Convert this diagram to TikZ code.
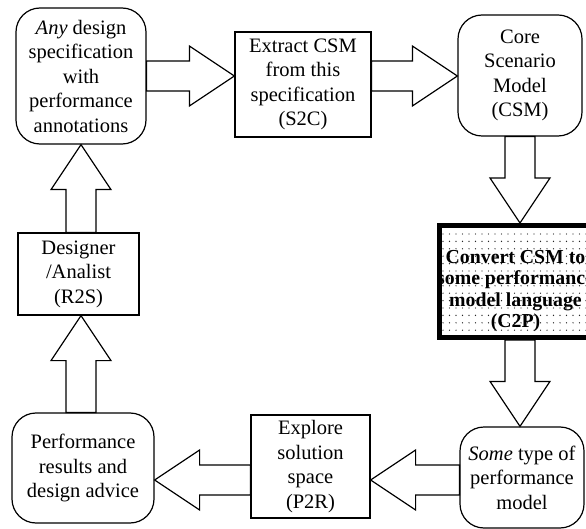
\documentclass[tikz,border=0pt]{standalone}
\usepackage{fontspec}
\setmainfont{Liberation Serif}
\usetikzlibrary{calc}
\tikzset{
  box/.style={draw, line width=1.2pt, inner sep=0pt, align=center,
    font=\fontsize{20.5}{24.5}\selectfont},
  rbox/.style={box, rounded corners=24pt},
  blk/.style={draw, line width=1.2pt, line join=miter},
  c2pbox/.style={draw, line width=5pt, inner sep=0pt},
  c2ptext/.style={inner sep=0pt, align=center,
    font=\fontsize{19.8}{21.5}\selectfont\bfseries},
}
% horizontal block arrow: #1 start, #2 tip, #3 = 1 (right) or -1 (left)
\newcommand{\arrowH}[3]{%
  \draw[blk] let \p1=(#1), \p2=(#2) in
    (\x1,{\y2+15pt}) -- ({\x2-(#3)*45pt},{\y2+15pt}) -- ({\x2-(#3)*45pt},{\y2+30pt})
    -- (\x2,\y2) -- ({\x2-(#3)*45pt},{\y2-30pt}) -- ({\x2-(#3)*45pt},{\y2-15pt})
    -- (\x1,{\y2-15pt}) -- cycle;}
% vertical block arrow: #1 start, #2 tip, #3 = 1 (up) or -1 (down)
\newcommand{\arrowV}[3]{%
  \draw[blk] let \p1=(#1), \p2=(#2) in
    ({\x2+15pt},\y1) -- ({\x2+15pt},{\y2-(#3)*45pt}) -- ({\x2+30pt},{\y2-(#3)*45pt})
    -- (\x2,\y2) -- ({\x2-30pt},{\y2-(#3)*45pt}) -- ({\x2-15pt},{\y2-(#3)*45pt})
    -- ({\x2-15pt},\y1) -- cycle;}
\begin{document}
\begin{tikzpicture}[x=1pt,y=-1pt]
\useasboundingbox (0,0) rectangle (586,529);
\clip (0,0) rectangle (586,529);
\fill[white] (0,0) rectangle (586,529);

% boxes
\node[rbox, minimum width=130pt, minimum height=136pt] (spec) at (81,76)
  {\textit{Any} design\\specification\\with\\performance\\annotations};
\node[box, minimum width=136pt, minimum height=105pt] (extract) at (303,84.5)
  {Extract CSM\\from this\\specification\\(S2C)};
\node[rbox, minimum width=124pt, minimum height=121pt] (core) at (520,75.5)
  {Core\\Scenario\\Model\\(CSM)};
\node[c2pbox, minimum width=153pt, minimum height=112pt] (c2p) at (516,281.5) {};
\begin{scope}
  \clip ($(c2p.north west)+(5,5)$) rectangle ($(c2p.south east)+(-5,-5)$);
  \foreach \i in {0,...,23}
    \foreach \j in {0,...,15}
      \fill[black!85] (443+\i*6.5, 234+\j*7.4) circle (0.7);
\end{scope}
\node[c2ptext] (c2pt) at (515.5,291)
  {Convert CSM to\\some performance\\model language\\(C2P)};
\node[rbox, minimum width=124pt, minimum height=101pt] (some) at (522,477.5)
  {\textit{Some} type of\\performance\\model};
\node[box, minimum width=119pt, minimum height=103pt] (explore) at (310.5,466.5)
  {Explore\\solution\\space\\(P2R)};
\node[rbox, minimum width=142pt, minimum height=110pt] (perf) at (83,468)
  {Performance\\results and\\design advice};
\node[box, minimum width=121pt, minimum height=82pt] (designer) at (78.5,274)
  {Designer\\/Analist\\(R2S)};

\coordinate (row) at (0,480);

% block arrows
\arrowH{spec.east}{extract.west |- spec.east}{1}
\arrowH{extract.east |- spec.east}{core.west |- spec.east}{1}
\arrowV{core.south}{c2p.north -| core.south}{-1}
\arrowV{c2p.south -| core.south}{some.north -| core.south}{-1}
\arrowH{some.west |- row}{explore.east |- row}{-1}
\arrowH{explore.west |- row}{perf.east |- row}{-1}
\arrowV{perf.north -| spec.south}{designer.south -| spec.south}{1}
\arrowV{designer.north -| spec.south}{spec.south}{1}
\end{tikzpicture}
\end{document}
